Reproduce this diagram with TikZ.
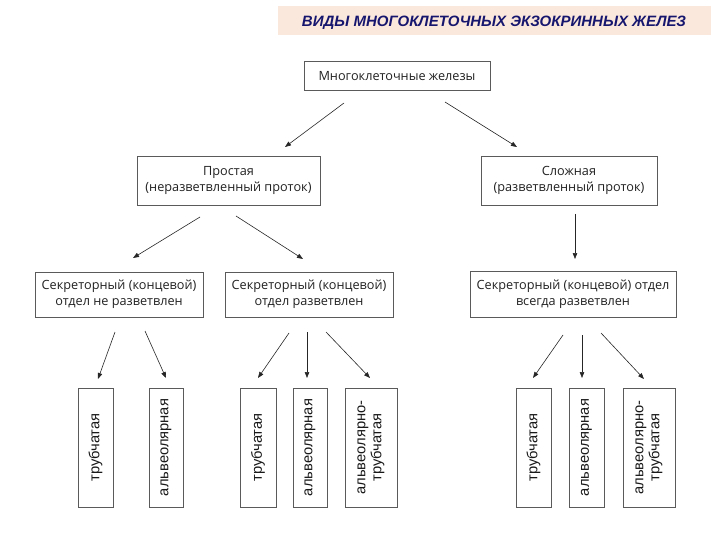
\documentclass[tikz,border=0pt]{standalone}
\usepackage{fontspec}
\setmainfont{Open Sans}
\newfontfamily\leaffont{Liberation Sans}
\newfontfamily\titlefont{Liberation Sans}
\usetikzlibrary{arrows.meta}
\definecolor{banner}{HTML}{FBE8DC}
\definecolor{titleblue}{HTML}{16166E}
\definecolor{boxline}{HTML}{5A5A5A}
\definecolor{boxtext}{HTML}{222222}
\tikzset{
  x=1pt, y=-1pt,
  box/.style={draw=boxline, line width=0.8pt, fill=white, inner sep=0pt, align=center,
    text=boxtext, font=\fontsize{12.7}{16}\selectfont},
  leaf/.style={draw=boxline, line width=0.8pt, fill=white, inner sep=0pt, align=center,
    minimum height=119pt},
  vtext/.style={rotate=90, align=center, inner sep=0pt, text=black!90,
    font=\leaffont\fontsize{14.7}{16}\selectfont},
  arr/.style={draw=black!85, line width=0.6pt, -{Triangle[length=6pt,width=4.5pt]}},
}
\begin{document}
\begin{tikzpicture}
\useasboundingbox (0,0) rectangle (720,540);
% title banner
\node[fill=banner, minimum width=433pt, minimum height=29pt, inner sep=0pt] (title) at (494.5,20.5) {};
\node[text=titleblue, font=\titlefont\bfseries\itshape\fontsize{15}{18}\selectfont, inner sep=0pt] (titletext) at (494,23) {ВИДЫ МНОГОКЛЕТОЧНЫХ ЭКЗОКРИННЫХ ЖЕЛЕЗ};
% boxes
\node[box, minimum width=186pt, minimum height=29pt] (top) at (397,76) {Многоклеточные железы};
\node[box, minimum width=183pt, minimum height=49pt] (prost) at (228.5,180.5) {Простая\\(неразветвленный проток)};
\node[box, minimum width=176pt, minimum height=49pt] (slozh) at (569,180.5) {Сложная\\(разветвленный проток)};
\node[box, minimum width=168pt, minimum height=45pt] (s1) at (119,294.5) {Секреторный (концевой)\\отдел не разветвлен};
\node[box, minimum width=168pt, minimum height=45pt] (s2) at (309,294.5) {Секреторный (концевой)\\отдел разветвлен};
\node[box, minimum width=206pt, minimum height=46pt] (s3) at (573,294) {Секреторный (концевой) отдел\\всегда разветвлен};
% leaves
\node[leaf, minimum width=35pt] (t1) at (95.5,447.5) {};
\node[leaf, minimum width=34pt] (a1) at (166,447.5) {};
\node[leaf, minimum width=36pt] (t2) at (258,447.5) {};
\node[leaf, minimum width=34pt] (a2) at (310,447.5) {};
\node[leaf, minimum width=52pt] (at2) at (371,447.5) {};
\node[leaf, minimum width=35pt] (t3) at (533.5,447.5) {};
\node[leaf, minimum width=35pt] (a3) at (586.5,447.5) {};
\node[leaf, minimum width=52pt] (at3) at (649,447.5) {};
\node[vtext] (t1l) at (t1.center) {трубчатая};
\node[vtext] (a1l) at (a1.center) {альвеолярная};
\node[vtext] (t2l) at (t2.center) {трубчатая};
\node[vtext] (a2l) at (a2.center) {альвеолярная};
\node[vtext] (at2l) at (at2.center) {альвеолярно-\\трубчатая};
\node[vtext] (t3l) at (t3.center) {трубчатая};
\node[vtext] (a3l) at (a3.center) {альвеолярная};
\node[vtext] (at3l) at (at3.center) {альвеолярно-\\трубчатая};
% arrow end points
\coordinate (c1s) at (344,103); \coordinate (c1e) at (285,147);
\coordinate (c2s) at (445,102); \coordinate (c2e) at (517,147);
\coordinate (c3s) at (200,217); \coordinate (c3e) at (133,258);
\coordinate (c4s) at (236,216); \coordinate (c4e) at (303,259);
\coordinate (c5s) at (575,214); \coordinate (c5e) at (575,259);
\coordinate (c6s) at (115,332); \coordinate (c6e) at (98,379);
\coordinate (c7s) at (145,331); \coordinate (c7e) at (166,378);
\coordinate (c8s) at (289,333); \coordinate (c8e) at (258,378);
\coordinate (c9s) at (307,332); \coordinate (c9e) at (307,378);
\coordinate (c10s) at (326,332); \coordinate (c10e) at (370,378);
\coordinate (c11s) at (563,335); \coordinate (c11e) at (533,378);
\coordinate (c12s) at (582,335); \coordinate (c12e) at (582,378);
\coordinate (c13s) at (601,333); \coordinate (c13e) at (644,379);
\foreach \i in {1,...,13} { \draw[arr] (c\i s) -- (c\i e); }
\end{tikzpicture}
\end{document}
